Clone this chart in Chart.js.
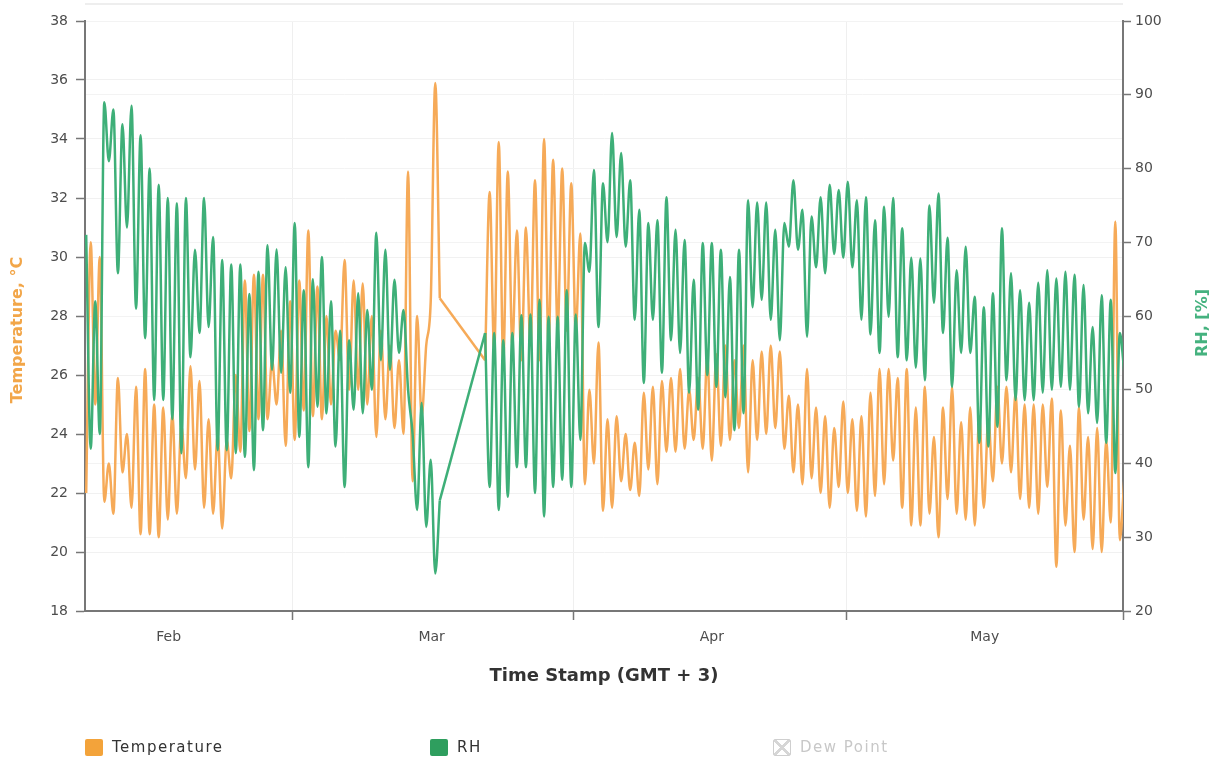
<!DOCTYPE html>
<html>
<head>
<meta charset="utf-8">
<script src="https://cdn.jsdelivr.net/npm/chart.js@4.4.1/dist/chart.umd.min.js"></script>
<style>
  html, body { margin: 0; padding: 0; background: #fff; overflow: hidden; }
  #wrap { position: relative; width: 1219px; height: 762px; }
  #topline { position: absolute; left: 85px; top: 3px; width: 1038px; border-top: 2px solid #eeeeee; }
  #legend { position: absolute; left: 0; top: 737px; width: 1219px; height: 20px;
            font-family: "DejaVu Sans", sans-serif; font-size: 15px; letter-spacing: 1.5px; }
  .item { position: absolute; top: 0; height: 20px; display: flex; align-items: center; color: #333; }
  .box { width: 18px; height: 17px; border-radius: 2px; margin-right: 9px; box-sizing: border-box; }
  .item.off { color: #c8c8c8; }
  .item.off .box { border: 1px solid #cfcfcf; background:
      linear-gradient(45deg, transparent 44%, #d6d6d6 44%, #d6d6d6 56%, transparent 56%),
      linear-gradient(-45deg, transparent 44%, #d6d6d6 44%, #d6d6d6 56%, transparent 56%); }
</style>
</head>
<body>
<div id="wrap">
  <div id="topline"></div>
  <canvas id="myChart"></canvas>
  <div id="legend"></div>
</div>
<script>
// days counted from 1 Feb; each day has an early-morning and an afternoon reading
var days = [
  5, 6, 7, 8, 9, 10, 11, 12, 13, 14,
  15, 16, 17, 18, 19, 20, 21, 22, 23, 24,
  25, 26, 27, 28, 29, 30, 31, 32, 33, 34,
  35, 36, 37, 38, 39, 40, 41, 42, 43, 44,
  49, 50, 51, 52, 53, 54, 55, 56, 57, 58,
  59, 60, 61, 62, 63, 64, 65, 66, 67, 68,
  69, 70, 71, 72, 73, 74, 75, 76, 77, 78,
  79, 80, 81, 82, 83, 84, 85, 86, 87, 88,
  89, 90, 91, 92, 93, 94, 95, 96, 97, 98,
  99, 100, 101, 102, 103, 104, 105, 106, 107, 108,
  109, 110, 111, 112, 113, 114, 115, 116, 117, 118,
  119
];
var MORNING = 0.2;
var AFTERNOON = 0.7;

// temperature, °C
var tempMorning = [
  22.0, 25.0, 21.7, 21.3, 22.7, 21.5, 20.6, 20.6, 20.5, 21.1,
  21.3, 22.5, 22.8, 21.5, 21.3, 20.8, 22.5, 23.4, 24.1, 24.5,
  24.5, 25.0, 23.6, 23.8, 24.8, 24.6, 24.5, 25.0, 26.5, 25.5,
  25.5, 25.0, 23.9, 24.5, 24.2, 24.0, 22.4, 24.6, 28.5, 28.6,
  26.5, 26.8, 26.5, 27.0, 26.5, 27.0, 26.5, 27.0, 27.5, 27.5,
  27.5, 22.3, 23.0, 21.4, 21.5, 22.4, 22.1, 21.9, 22.8, 22.3,
  23.4, 23.4, 23.5, 23.8, 23.5, 23.1, 23.6, 23.8, 24.2, 22.7,
  23.8, 24.0, 24.2, 23.5, 22.7, 22.3, 22.5, 22.0, 21.5, 22.2,
  22.0, 21.4, 21.2, 21.9, 22.3, 23.1, 21.5, 20.9, 20.9, 21.3,
  20.5, 21.8, 21.3, 21.1, 20.9, 21.5, 22.4, 23.0, 22.7, 21.8,
  21.5, 21.3, 22.2, 19.5, 20.9, 20.0, 21.1, 20.1, 20.0, 21.0,
  20.4
];
var tempAfternoon = [
  30.5, 30.0, 23.0, 25.9, 24.0, 25.6, 26.2, 25.0, 24.9, 24.7,
  24.3, 26.3, 25.8, 24.5, 24.0, 23.8, 26.0, 29.2, 29.4, 29.4,
  26.5, 27.5, 28.5, 29.2, 30.9, 29.0, 28.0, 27.5, 29.9, 29.2,
  29.1, 28.0, 27.5, 27.0, 26.5, 32.9, 28.0, 27.0, 35.9, null,
  32.2, 33.9, 32.9, 30.9, 31.0, 32.6, 34.0, 33.3, 33.0, 32.5,
  30.8, 25.5, 27.1, 24.5, 24.6, 24.0, 23.7, 25.4, 25.6, 25.8,
  25.9, 26.2, 25.5, 25.9, 26.6, 26.7, 27.0, 26.5, 27.0, 26.5,
  26.8, 27.0, 26.8, 25.3, 25.0, 26.2, 24.9, 24.6, 24.2, 25.1,
  24.5, 24.6, 25.4, 26.2, 26.2, 25.9, 26.2, 24.9, 25.6, 23.9,
  24.9, 25.6, 24.4, 24.9, 24.6, 24.5, 25.6, 25.6, 25.4, 25.0,
  25.0, 25.0, 25.2, 24.8, 23.6, 24.9, 23.9, 24.2, 23.8, 31.2,
  22.5
];

// relative humidity, %
var rhMorning = [
  71, 62, 89, 88, 86, 88.5, 84.5, 80, 77.8, 76,
  75.3, 76, 69, 76, 70.7, 67.6, 67, 67, 63, 66,
  69.6, 69, 66.6, 72.6, 63.5, 65, 68, 62, 58, 56.7,
  63.1, 60.8, 71.3, 69, 64.9, 60.8, 44, 48.2, 40.5, 35,
  57.7, 57.7, 56.7, 57.7, 60.1, 60.2, 62.2, 59.9, 59.9, 63.5,
  60.2, 69.9, 79.8, 78, 84.8, 82.1, 78.4, 74.4, 72.6, 73,
  76.1, 71.7, 70.3, 64.9, 69.9, 69.9, 69, 65.3, 69, 75.7,
  75.4, 75.4, 71.7, 72.6, 78.4, 74.4, 73.5, 76.1, 77.8, 77.1,
  78.2, 75.7, 76.1, 73, 74.8, 76, 71.9, 67.9, 67.8, 75,
  76.6, 70.6, 66.2, 69.4, 62.6, 61.2, 63.1, 71.9, 65.8, 63.5,
  61.8, 64.5, 66.2, 65.1, 66, 65.6, 64.2, 58.5, 62.8, 62.2,
  57.7
];
var rhAfternoon = [
  42, 44, 81, 65.8, 72, 61, 57, 48.6, 48.6, 46,
  41.4, 54.4, 57.7, 58.5, 41.8, 41.8, 41.4, 40.9, 39.1, 44.5,
  52.7, 52.3, 49.6, 43.6, 39.5, 47.7, 46.8, 42.3, 36.8, 47.3,
  46.8, 50, 54, 52.7, 55, 50, 33.7, 31.4, 25.1, null,
  36.8, 33.7, 35.5, 39.5, 39.5, 36, 32.8, 36.8, 37.8, 36.8,
  43.2, 66, 58.5, 70, 70.7, 69.4, 59.5, 50.9, 59.5, 52.3,
  56.7, 55, 49.6, 47.3, 52, 50.4, 49, 44.5, 46.8, 61.2,
  62.2, 59.5, 56.7, 69.4, 69, 57.2, 66.6, 65.8, 68.4, 67.9,
  66.6, 59.5, 57.5, 55, 59.9, 54.4, 54, 53, 51.3, 61.8,
  57.7, 50.4, 55, 55, 42.8, 42.3, 45, 51.3, 48.6, 48.6,
  48.6, 49.6, 50, 50.4, 50, 47.7, 46.8, 45.5, 42.8, 38.7,
  52.3
];

// x axis: month names sit mid-month, tick marks/grid at the first of each month
var monthNames = ['Feb', 'Mar', 'Apr', 'May'];
var monthMiddles = [14.3, 43.3, 74.2, 104.3];
var monthStarts = [28, 59, 89];
var xStart = 5.07;
var xEnd = 119.55;

var seriesNames = ['Temperature', 'RH', 'Dew Point'];
var axisTitles = ['Temperature, °C', 'RH, [%]', 'Time Stamp (GMT + 3)'];

var ORANGE = 'rgb(246,170,88)';
var GREEN = 'rgb(62,175,120)';

// smooth daily curve, plus a straight link over the days with no readings
function buildPoints(morning, afternoon) {
  var pts = [], link = [];
  for (var i = 0; i < days.length; ++i) {
    if (morning[i] !== null) pts.push({x: days[i] + MORNING, y: morning[i]});
    if (afternoon[i] !== null) pts.push({x: days[i] + AFTERNOON, y: afternoon[i]});
    if (i + 1 < days.length && days[i + 1] - days[i] > 1) {
      link.push(pts[pts.length - 1]);
      pts.push({x: days[i] + 1, y: null});
      link.push({x: days[i + 1] + MORNING, y: morning[i + 1]});
    }
  }
  return {main: pts, link: link};
}

function isMonthStart(v) {
  return monthStarts.indexOf(v) >= 0;
}

// both axis titles read bottom-to-top
var sideTitles = {
  id: 'sideTitles',
  afterDraw: function(chart) {
    var c = chart.ctx;
    var items = [
      {text: axisTitles[0], x: chart.scales.y.left + 18, y: 330, color: '#f2a649'},
      {text: axisTitles[1], x: chart.scales.y1.right - 16, y: 323, color: '#45b27f'}
    ];
    items.forEach(function(t) {
      c.save();
      c.translate(t.x, t.y);
      c.rotate(-Math.PI / 2);
      c.font = 'bold 16px "DejaVu Sans", sans-serif';
      c.fillStyle = t.color;
      c.textAlign = 'center';
      c.textBaseline = 'middle';
      c.fillText(t.text, 0, 0);
      c.restore();
    });
  }
};

Chart.defaults.font.family = '"DejaVu Sans", sans-serif';
Chart.defaults.color = '#555';

var temp = buildPoints(tempMorning, tempAfternoon);
var rh = buildPoints(rhMorning, rhAfternoon);

function lineSet(label, pts, color, swatch, axis, order, curve) {
  return {
    label: label,
    data: pts,
    borderColor: color,
    backgroundColor: swatch,
    borderWidth: 2.5,
    pointRadius: 0,
    spanGaps: false,
    tension: curve ? 0.4 : 0,
    cubicInterpolationMode: curve ? 'monotone' : 'default',
    yAxisID: axis,
    order: order
  };
}

var linkTemp = lineSet('', temp.link, ORANGE, ORANGE, 'y', 2, false);
var linkRh = lineSet('', rh.link, GREEN, GREEN, 'y1', 1, false);
linkTemp.isLink = true;
linkRh.isLink = true;

var ctx = document.getElementById('myChart').getContext('2d');
var chart = new Chart(ctx, {
  type: 'line',
  data: {
    datasets: [
      lineSet(seriesNames[0], temp.main, ORANGE, '#f3a33a', 'y', 2, true),
      lineSet(seriesNames[1], rh.main, GREEN, '#2e9e5e', 'y1', 1, true),
      { label: seriesNames[2], data: [], hidden: true, borderColor: '#ccc', yAxisID: 'y' },
      linkTemp,
      linkRh
    ]
  },
  options: {
    responsive: true,
    maintainAspectRatio: false,
    animation: false,
    layout: { padding: { top: 21, bottom: 61, left: 0, right: 0 } },
    plugins: { legend: { display: false }, tooltip: { enabled: false } },
    scales: {
      x: {
        type: 'linear',
        position: 'bottom',
        min: xStart,
        max: xEnd,
        afterBuildTicks: function(scale) {
          var t = [];
          monthMiddles.forEach(function(v) { t.push({value: v}); });
          monthStarts.forEach(function(v) { t.push({value: v}); });
          t.push({value: xEnd});
          t.sort(function(a, b) { return a.value - b.value; });
          scale.ticks = t;
        },
        afterFit: function(scale) { scale.height = 90; },
        ticks: {
          autoSkip: false,
          maxRotation: 0,
          padding: 9,
          color: '#4d4d4d',
          font: { size: 14 },
          callback: function(value) {
            var k = monthMiddles.indexOf(value);
            return k >= 0 ? monthNames[k] : '';
          }
        },
        grid: {
          color: function(c) { return c.tick && isMonthStart(c.tick.value) ? '#efefef' : 'rgba(0,0,0,0)'; },
          tickColor: function(c) { return c.tick && monthMiddles.indexOf(c.tick.value) < 0 ? '#777' : 'rgba(0,0,0,0)'; },
          tickLength: 9,
          tickWidth: 1.5
        },
        border: { color: '#777', width: 2 },
        title: {
          display: true,
          text: axisTitles[2],
          color: '#333',
          font: { size: 18, weight: 'bold' },
          padding: { top: 0, bottom: 14 }
        }
      },
      y: {
        position: 'left',
        min: 18,
        max: 38,
        afterFit: function(scale) { scale.width = 85; },
        ticks: { stepSize: 2, padding: 8, color: '#4d4d4d', font: { size: 14 } },
        grid: { color: '#f1f1f1', tickColor: '#777', tickLength: 9, tickWidth: 1.5 },
        border: { color: '#777', width: 2 }
      },
      y1: {
        position: 'right',
        min: 20,
        max: 100,
        afterFit: function(scale) { scale.width = 96; },
        ticks: { stepSize: 10, padding: 4, color: '#4d4d4d', font: { size: 14 } },
        grid: { color: '#f3f3f3', tickColor: '#777', tickLength: 8, tickWidth: 1.5 },
        border: { color: '#777', width: 2 }
      }
    }
  },
  plugins: [sideTitles]
});

// legend in fixed columns, like the original
var legendLeft = [85, 430, 773];
var legend = document.getElementById('legend');
chart.data.datasets.filter(function(ds) { return !ds.isLink; }).forEach(function(ds, i) {
  var item = document.createElement('div');
  item.className = 'item' + (ds.hidden ? ' off' : '');
  item.style.left = legendLeft[i] + 'px';
  var box = document.createElement('span');
  box.className = 'box';
  if (!ds.hidden) box.style.background = ds.backgroundColor;
  var txt = document.createElement('span');
  txt.textContent = ds.label;
  item.appendChild(box);
  item.appendChild(txt);
  legend.appendChild(item);
});
</script>
</body>
</html>
